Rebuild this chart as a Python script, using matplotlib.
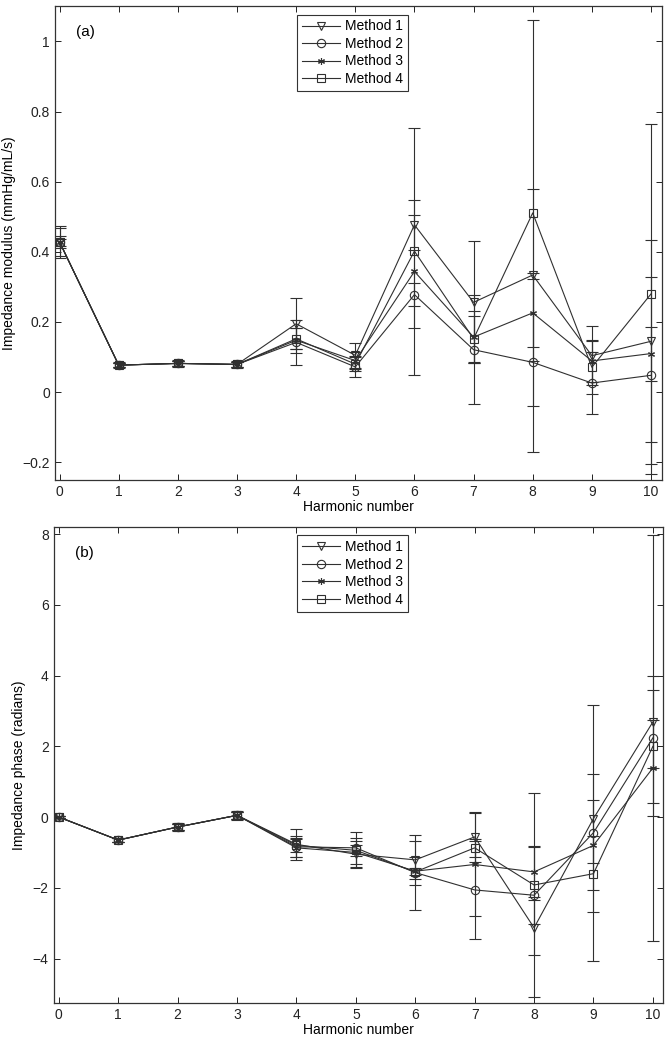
import numpy as np
import matplotlib
matplotlib.use("Agg")
import matplotlib.pyplot as plt
from matplotlib.ticker import FuncFormatter
from matplotlib.lines import Line2D

plt.rcParams['font.family'] = ['Liberation Sans', 'DejaVu Sans']
plt.rcParams['font.size'] = 10

# 谐波编号
harmonics = np.arange(11)
methods = ["Method 1", "Method 2", "Method 3", "Method 4"]

# (a) 阻抗模量
mod_m1 = [0.428, 0.077, 0.082, 0.079, 0.195, 0.105, 0.477, 0.256, 0.334, 0.104, 0.145]
mod_m2 = [0.428, 0.077, 0.082, 0.079, 0.142, 0.072, 0.278, 0.121, 0.085, 0.026, 0.048]
mod_m3 = [0.428, 0.077, 0.082, 0.079, 0.148, 0.090, 0.344, 0.157, 0.226, 0.089, 0.110]
mod_m4 = [0.428, 0.077, 0.082, 0.079, 0.152, 0.080, 0.402, 0.152, 0.511, 0.071, 0.280]
mod_e1 = [0.046, 0.008, 0.010, 0.010, 0.072, 0.035, 0.072, 0.174, 0.246, 0.085, 0.288]
mod_e2 = [0.040, 0.006, 0.008, 0.008, 0.065, 0.030, 0.032, 0.155, 0.255, 0.089, 0.280]
mod_e3 = [0.018, 0.006, 0.008, 0.008, 0.035, 0.025, 0.160, 0.075, 0.096, 0.060, 0.077]
mod_e4 = [0.010, 0.006, 0.008, 0.008, 0.030, 0.020, 0.352, 0.065, 0.550, 0.075, 0.485]

# (b) 阻抗相位
ph_m1 = [0.0, -0.65, -0.28, 0.05, -0.77, -1.05, -1.21, -0.56, -3.13, -0.04, 2.69]
ph_m2 = [0.0, -0.65, -0.28, 0.05, -0.84, -0.87, -1.57, -2.06, -2.21, -0.44, 2.24]
ph_m3 = [0.0, -0.65, -0.28, 0.05, -0.87, -1.00, -1.53, -1.34, -1.55, -0.80, 1.39]
ph_m4 = [0.0, -0.65, -0.28, 0.05, -0.80, -0.94, -1.55, -0.87, -1.92, -1.60, 2.00]
ph_e1 = [0.03, 0.05, 0.10, 0.12, 0.43, 0.38, 0.53, 0.70, 0.78, 1.27, 1.30]
ph_e2 = [0.03, 0.05, 0.08, 0.10, 0.30, 0.45, 1.07, 1.38, 2.88, 3.62, 5.73]
ph_e3 = [0.03, 0.05, 0.08, 0.10, 0.25, 0.42, 0.40, 1.46, 0.70, 1.27, 1.35]
ph_e4 = [0.03, 0.05, 0.08, 0.10, 0.20, 0.15, 0.10, 0.25, 1.10, 1.07, 1.60]

markers = ['v', 'o', (6, 2, 0), 's']
msizes = [6, 6, 5, 5.5]
col = '#303030'


def fmt(v, pos):
    s = '%g' % v
    return s.replace('-', '\u2212')


def panel(ax, ys, es, ylabel, tag, ylim, yticks, xlim):
    handles = []
    for y, e, m, ms, lab in zip(ys, es, markers, msizes, methods):
        ax.errorbar(harmonics, y, yerr=e, color=col, marker=m, ms=ms,
                    mfc='none', mec=col, mew=0.8, lw=0.8, elinewidth=0.8,
                    capsize=4, capthick=0.8)
        handles.append(Line2D([], [], color=col, marker=m, ms=ms, mfc='none',
                              mec=col, mew=0.8, lw=0.8, label=lab))
    ax.set_xlim(*xlim)
    ax.set_ylim(*ylim)
    ax.set_xticks(harmonics)
    ax.set_yticks(yticks)
    ax.yaxis.set_major_formatter(FuncFormatter(fmt))
    ax.tick_params(direction='in', top=True, right=True, length=4, width=0.7,
                   labelsize=10, colors='#222222')
    for sp in ax.spines.values():
        sp.set_linewidth(0.9)
        sp.set_color('#333333')
    ax.set_xlabel("Harmonic number", fontsize=10, labelpad=1)
    ax.set_ylabel(ylabel, fontsize=10, labelpad=5)
    ax.text(0.035, 0.945, tag, transform=ax.transAxes, fontsize=11,
            ha='left', va='center')
    leg = ax.legend(handles=handles, loc='upper center', numpoints=1,
                    fancybox=False, framealpha=1, edgecolor='#333333',
                    handlelength=2.8, borderaxespad=0.6, labelspacing=0.25,
                    handletextpad=0.3, borderpad=0.35, fontsize=10,
                    bbox_to_anchor=(0.49, 1.0))
    leg.get_frame().set_linewidth(0.8)


fig = plt.figure(figsize=(6.69, 10.5), dpi=100)
ax1 = fig.add_axes([0.082, 0.543, 0.907, 0.451])
ax2 = fig.add_axes([0.08, 0.045, 0.911, 0.453])

panel(ax1, [mod_m1, mod_m2, mod_m3, mod_m4], [mod_e1, mod_e2, mod_e3, mod_e4],
      "Impedance modulus (mmHg/mL/s)", "(a)", (-0.25, 1.1),
      [-0.2, 0, 0.2, 0.4, 0.6, 0.8, 1.0], (-0.08, 10.18))
panel(ax2, [ph_m1, ph_m2, ph_m3, ph_m4], [ph_e1, ph_e2, ph_e3, ph_e4],
      "Impedance phase (radians)", "(b)", (-5.25, 8.2),
      [-4, -2, 0, 2, 4, 6, 8], (-0.09, 10.17))

fig.savefig("out.png", dpi=100)
